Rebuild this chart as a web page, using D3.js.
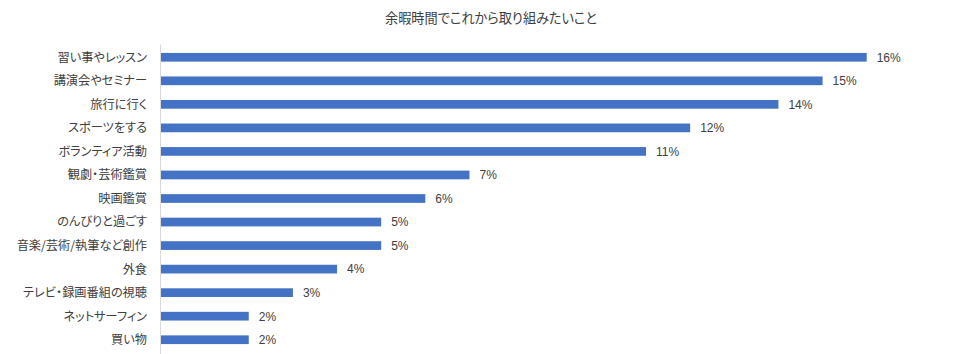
<!DOCTYPE html>
<html>
<head>
<meta charset="utf-8">
<script src="https://cdn.jsdelivr.net/npm/d3@7"></script>
<style>
  html, body { margin: 0; padding: 0; background: #fff; }
  svg { display: block; }
  .jp { font-family: "Noto Sans CJK JP", "Noto Sans", sans-serif; font-feature-settings: "palt"; }
  .num { font-family: "Liberation Sans", "DejaVu Sans", sans-serif; }
</style>
</head>
<body>
<svg id="chart" width="960" height="354"></svg>
<script>
const title = "余暇時間でこれから取り組みたいこと";
const categories = [
  "習い事やレッスン",
  "講演会やセミナー",
  "旅行に行く",
  "スポーツをする",
  "ボランティア活動",
  "観劇・芸術鑑賞",
  "映画鑑賞",
  "のんびりと過ごす",
  "音楽/芸術/執筆など創作",
  "外食",
  "テレビ・録画番組の視聴",
  "ネットサーフィン",
  "買い物"
];
const values = [16, 15, 14, 12, 11, 7, 6, 5, 5, 4, 3, 2, 2];
const xMax = 16;

const svg = d3.select("#chart");
const W = 960, H = 354;
const plot = { left: 160.5, right: 866.7, top: 45.5, bottom: 351.5 };

const x = d3.scaleLinear().domain([0, xMax]).range([plot.left, plot.right]);
const y = d3.scaleBand().domain(categories).range([plot.top, plot.bottom]).paddingInner(0.63).paddingOuter(0.315);

svg.append("text")
  .attr("class", "jp")
  .attr("x", 491).attr("y", 23)
  .attr("text-anchor", "middle")
  .attr("font-size", 13.2)
  .attr("fill", "#404040")
  .text(title);

svg.append("g").selectAll("rect")
  .data(values)
  .join("rect")
  .attr("x", x(0))
  .attr("y", (d, i) => y(categories[i]))
  .attr("width", d => x(d) - x(0))
  .attr("height", y.bandwidth())
  .attr("fill", "#4472C4");

svg.append("line")
  .attr("x1", plot.left).attr("x2", plot.left)
  .attr("y1", 44.5).attr("y2", H)
  .attr("stroke", "#d9d9d9").attr("stroke-width", 1);

svg.append("g").selectAll("text")
  .data(categories)
  .join("text")
  .attr("class", "jp")
  .attr("x", 147)
  .attr("y", d => y(d) + y.bandwidth() / 2)
  .attr("dy", "0.36em")
  .attr("text-anchor", "end")
  .attr("font-size", 12.2)
  .attr("fill", "#404040")
  .text(d => d);

svg.append("g").selectAll("text")
  .data(values)
  .join("text")
  .attr("class", "num")
  .attr("x", d => x(d) + 10)
  .attr("y", (d, i) => y(categories[i]) + y.bandwidth() / 2)
  .attr("dy", "0.36em")
  .attr("font-size", 12)
  .attr("fill", "#404040")
  .text(d => d + "%");
</script>
</body>
</html>
